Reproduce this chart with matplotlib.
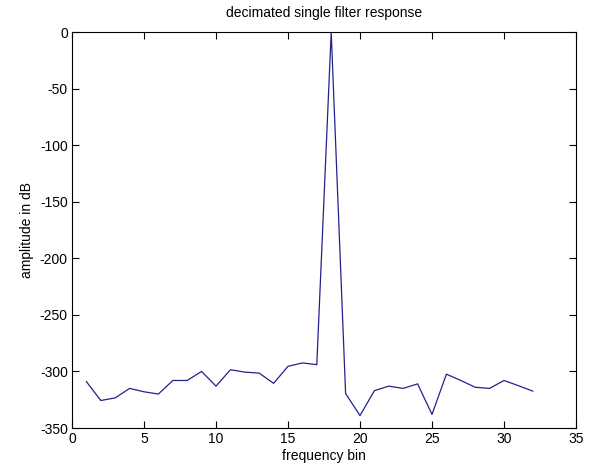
import numpy as np
import matplotlib.pyplot as plt

plt.rcParams['font.family'] = ['Liberation Sans', 'DejaVu Sans']
plt.rcParams['axes.unicode_minus'] = False

# frequency bins and response in dB
bins = np.arange(1, 33)
amp_db = [-309, -325.7, -323.4, -315, -318, -320, -308, -308, -300, -313,
          -298.5, -300.6, -301.5, -310.5, -295.5, -292.5, -294, 0,
          -319.5, -339, -317, -313, -315, -311, -338, -302.4, -308,
          -314, -315, -308, -312.6, -317.4]

fig = plt.figure(figsize=(5.91, 4.73), dpi=100)
ax = fig.add_axes([72/591, 1 - 428/473, (576 - 72)/591, (428 - 32)/473])

ax.plot(bins, amp_db, color='#22228c', linewidth=0.9)

ax.set_xlim(0, 35)
ax.set_ylim(-350, 0)
ax.set_xticks(np.arange(0, 36, 5))
ax.set_yticks(np.arange(-350, 1, 50))
ax.tick_params(direction='in', top=True, right=True, length=5, labelsize=10, pad=3)
for s in ax.spines.values():
    s.set_linewidth(0.8)

ax.set_title('decimated single filter response', fontsize=10, pad=11)
ax.set_xlabel('frequency bin', fontsize=10, labelpad=2)
ax.set_ylabel('amplitude in dB', fontsize=10, labelpad=4)

fig.savefig('out.png', dpi=100)
